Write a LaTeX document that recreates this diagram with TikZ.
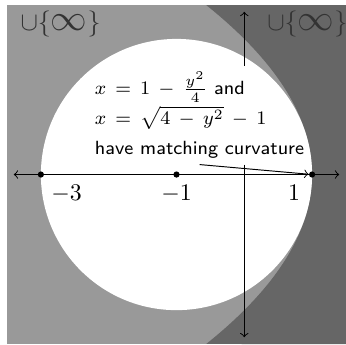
\documentclass[tikz,border=0pt]{standalone}
\usepackage{amsmath}
\begin{document}
\begin{tikzpicture}[
  dot/.style={circle,fill=black,inner sep=0pt,minimum size=2.6pt},
  infset/.style={text=black!80,anchor=base,font=\fontsize{10.5}{12}\selectfont},
  tick/.style={anchor=base},
  note/.style={align=left,inner xsep=5pt,inner ysep=2.5pt,font={\sffamily\fontsize{8}{12.5}\selectfont\thickmuskip=8mu\medmuskip=7.5mu}}]
\useasboundingbox (-3.603,-2.5) rectangle (1.5,2.574);
\fill[black!40] (-3.5,-2.5) rectangle (1.5,2.5);
\fill[black!60] (1.5,2.5) -- plot[domain=2.5:-2.5,samples=60,smooth] ({1-\x*\x/4},\x) -- (1.5,-2.5) -- cycle;
\fill[white] (-1,0) circle (2);
\coordinate (xl) at (-3.4,0);
\coordinate (xr) at (1.4,0);
\coordinate (yt) at (0,2.4);
\coordinate (yb) at (0,-2.4);
\node[note,anchor=south] (txt) at (-0.66,0.147)
  {$x = 1 - \frac{y^2}{4}$ and\\ $x = \sqrt{4-y^2} - 1$\\ have matching curvature};
\draw[<->] (xl) -- (xr);
\draw[->] (txt.north -| yt) -- (yt);
\draw[->] (txt.south -| yb) -- (yb);
\node[dot] (pm3) at (-3,0) {};
\node[dot] (pm1) at (-1,0) {};
\node[dot] (p1) at (1,0) {};
\node[tick] (lm3) at (-2.62,-0.378) {$-3$};
\node[tick] (lm1) at (-1,-0.378) {$-1$};
\node[tick] (l1) at (0.735,-0.378) {$1$};
\draw[->] (txt.south) -- (p1);
\node[infset] (infl) at (-2.71,2.12) {$\cup\{\scalebox{1.4}{$\infty$}\}$};
\node[infset] (infr) at (0.93,2.12) {$\cup\{\scalebox{1.4}{$\infty$}\}$};
\end{tikzpicture}
\end{document}
